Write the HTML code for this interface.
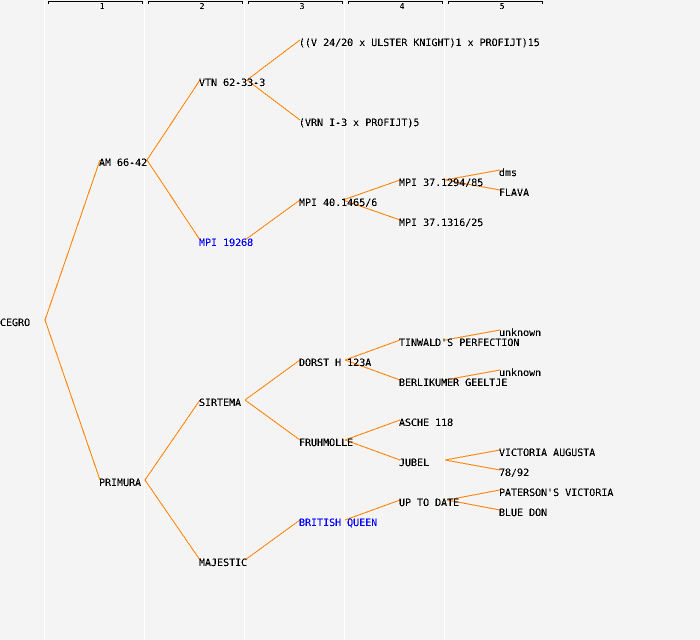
<!DOCTYPE html>
<html>
<head>
<meta charset="utf-8">
<style>
html,body{margin:0;padding:0;background:#f4f4f4}
svg{display:block}
text{font-family:"DejaVu Sans Mono","Liberation Mono",monospace;font-size:10px;fill:#000;white-space:pre;text-rendering:geometricPrecision}
.t{filter:url(#crisp)}
.h{font-size:8px;text-anchor:middle}
.b{fill:#0000ff}
.g line{stroke:#fff;stroke-width:1}
.l line{stroke:#ff8000;stroke-width:1}
.k path{fill:none;stroke:#000;stroke-width:1}
</style>
</head>
<body>
<svg width="700" height="640" viewBox="0 0 700 640" xmlns="http://www.w3.org/2000/svg">
<defs>
<filter id="crisp" x="0" y="0" width="100%" height="100%" filterUnits="objectBoundingBox" color-interpolation-filters="sRGB">
<feComponentTransfer><feFuncA type="discrete" tableValues="0 1 1 1"/></feComponentTransfer>
</filter>
</defs>
<rect width="700" height="640" fill="#f4f4f4"/>
<g class="g" shape-rendering="crispEdges">
<line x1="44.5" y1="0" x2="44.5" y2="640"/>
<line x1="144.5" y1="0" x2="144.5" y2="640"/>
<line x1="244.5" y1="0" x2="244.5" y2="640"/>
<line x1="344.5" y1="0" x2="344.5" y2="640"/>
<line x1="444.5" y1="0" x2="444.5" y2="640"/>
</g>
<g class="k" shape-rendering="crispEdges">
<path d="M48.5 4V1.5H142.5V4"/>
<path d="M148.5 4V1.5H242.5V4"/>
<path d="M248.5 4V1.5H342.5V4"/>
<path d="M348.5 4V1.5H442.5V4"/>
<path d="M448.5 4V1.5H542.5V4"/>
</g>
<g class="l" shape-rendering="crispEdges">
<line x1="45" y1="320" x2="100" y2="160"/>
<line x1="45" y1="320" x2="100" y2="480"/>
<line x1="147" y1="160" x2="200" y2="80"/>
<line x1="147" y1="160" x2="200" y2="240"/>
<line x1="145" y1="480" x2="200" y2="400"/>
<line x1="145" y1="480" x2="200" y2="560"/>
<line x1="247" y1="80" x2="300" y2="40"/>
<line x1="247" y1="80" x2="300" y2="120"/>
<line x1="245" y1="240" x2="300" y2="200"/>
<line x1="245" y1="400" x2="300" y2="360"/>
<line x1="245" y1="400" x2="300" y2="440"/>
<line x1="245" y1="560" x2="300" y2="520"/>
<line x1="343" y1="200" x2="400" y2="180"/>
<line x1="343" y1="200" x2="400" y2="220"/>
<line x1="345" y1="360" x2="400" y2="340"/>
<line x1="345" y1="360" x2="400" y2="380"/>
<line x1="345" y1="440" x2="400" y2="420"/>
<line x1="345" y1="440" x2="400" y2="460"/>
<line x1="345" y1="520" x2="400" y2="500"/>
<line x1="445" y1="180" x2="500" y2="170"/>
<line x1="445" y1="180" x2="500" y2="190"/>
<line x1="445" y1="340" x2="500" y2="330"/>
<line x1="445" y1="380" x2="500" y2="370"/>
<line x1="445" y1="460" x2="500" y2="450"/>
<line x1="445" y1="460" x2="500" y2="470"/>
<line x1="447" y1="500" x2="500" y2="490"/>
<line x1="447" y1="500" x2="500" y2="510"/>
</g>
<g class="t">
<text class="h" x="102" y="9">1</text>
<text class="h" x="202" y="9">2</text>
<text class="h" x="302" y="9">3</text>
<text class="h" x="402" y="9">4</text>
<text class="h" x="502" y="9">5</text>
<text x="0" y="326">CEGRO</text>
<text x="99" y="166">AM 66-42</text>
<text x="99" y="486">PRIMURA</text>
<text x="199" y="86">VTN 62-33-3</text>
<text x="199" y="246" class="b">MPI 19268</text>
<text x="199" y="406">SIRTEMA</text>
<text x="199" y="566">MAJESTIC</text>
<text x="299" y="46">((V 24/20 x ULSTER KNIGHT)1 x PROFIJT)15</text>
<text x="299" y="126">(VRN I-3 x PROFIJT)5</text>
<text x="299" y="206">MPI 40.1465/6</text>
<text x="299" y="366">DORST H 123A</text>
<text x="299" y="446">FRUHMOLLE</text>
<text x="299" y="526" class="b">BRITISH QUEEN</text>
<text x="399" y="186">MPI 37.1294/85</text>
<text x="399" y="226">MPI 37.1316/25</text>
<text x="399" y="346">TINWALD'S PERFECTION</text>
<text x="399" y="386">BERLIKUMER GEELTJE</text>
<text x="399" y="426">ASCHE 118</text>
<text x="399" y="466">JUBEL</text>
<text x="399" y="506">UP TO DATE</text>
<text x="499" y="176">dms</text>
<text x="499" y="196">FLAVA</text>
<text x="499" y="336">unknown</text>
<text x="499" y="376">unknown</text>
<text x="499" y="456">VICTORIA AUGUSTA</text>
<text x="499" y="476">78/92</text>
<text x="499" y="496">PATERSON'S VICTORIA</text>
<text x="499" y="516">BLUE DON</text>
</g>
</svg>
</body>
</html>
